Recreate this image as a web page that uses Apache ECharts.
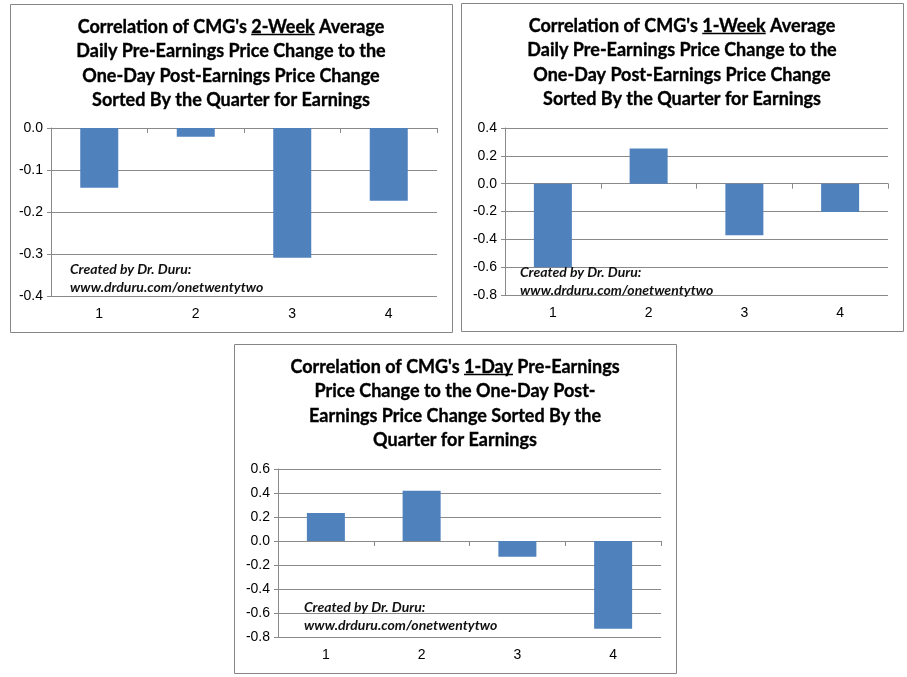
<!DOCTYPE html>
<html><head><meta charset="utf-8">
<script src="https://cdn.jsdelivr.net/npm/echarts@6/dist/echarts.min.js"></script>
<style>html,body{margin:0;padding:0;background:#fff}#c{width:907px;height:677px}</style>
</head><body><div id="c"></div>
<script>
// ---- data ----
const categories = ['1', '2', '3', '4'];
const twoWeekValues = [-0.142, -0.021, -0.309, -0.173];
const oneWeekValues = [-0.600, 0.253, -0.370, -0.203];
const oneDayValues = [0.234, 0.418, -0.131, -0.732];
const title1 = [["Correlation of CMG's ", "2-Week", " Average"], "Daily Pre-Earnings Price Change to the", "One-Day Post-Earnings Price Change", "Sorted By the Quarter for Earnings"];
const title2 = [["Correlation of CMG's ", "1-Week", " Average"], "Daily Pre-Earnings Price Change to the", "One-Day Post-Earnings Price Change", "Sorted By the Quarter for Earnings"];
const title3 = [["Correlation of CMG's ", "1-Day", " Pre-Earnings"], "Price Change to the One-Day Post-", "Earnings Price Change Sorted By the", "Quarter for Earnings"];
const watermark = "Created by Dr. Duru:\nwww.drduru.com/onetwentytwo";

// ---- layout ----
const TFONT = 'bold 18px Lato';
const panels = [
  {values: twoWeekValues, title: title1, box: [10, 4, 442, 328], grid: {left: 51, top: 128, width: 386, height: 168}, cx: 231, ty: 27, wm: [70, 278], y: {min: -0.4, max: 0, interval: 0.1}},
  {values: oneWeekValues, title: title2, box: [461, 3, 442, 328], grid: {left: 505, top: 128, width: 383, height: 167}, cx: 682, ty: 26, wm: [520, 281.5], y: {min: -0.8, max: 0.4, interval: 0.2}},
  {values: oneDayValues, title: title3, box: [234, 344, 442, 329], grid: {left: 278, top: 469, width: 383, height: 168}, cx: 455, ty: 367, wm: [304, 616], y: {min: -0.8, max: 0.6, interval: 0.2}}
];
const LINE_H = 24.4;
const gridColor = '#8a8a8a';
const barColor = '#4f81bd';

const ctx = document.createElement('canvas').getContext('2d');
ctx.font = TFONT;
const mw = s => ctx.measureText(s).width;

const graphics = [];
const grids = [], xAxes = [], yAxes = [], series = [];
const tStyle = {font: TFONT, fill: '#000', stroke: '#000', lineWidth: 0.35, textVerticalAlign: 'middle'};
panels.forEach((p, i) => {
  graphics.push({type: 'rect', shape: {x: p.box[0] + 0.5, y: p.box[1] + 0.5, width: p.box[2], height: p.box[3]}, style: {fill: 'none', stroke: '#868686', lineWidth: 1}, z: 0});
  p.title.forEach((line, li) => {
    const y = p.ty + li * LINE_H;
    if (Array.isArray(line)) {
      const ws = line.map(mw);
      const total = ws.reduce((a, b) => a + b, 0);
      let x = p.cx - total / 2;
      line.forEach((seg, si) => {
        graphics.push({type: 'text', x: x, y: y, style: Object.assign({text: seg, textAlign: 'left'}, tStyle), z: 10});
        if (si === 1) {
          graphics.push({type: 'line', shape: {x1: x, y1: Math.round(y + 7) + 0.5, x2: x + ws[si], y2: Math.round(y + 7) + 0.5}, style: {stroke: '#000', lineWidth: 1.3}, z: 10});
        }
        x += ws[si];
      });
    } else {
      graphics.push({type: 'text', x: p.cx, y: y, style: Object.assign({text: line, textAlign: 'center'}, tStyle), z: 10});
    }
  });
  graphics.push({type: 'text', x: p.wm[0], y: p.wm[1], style: {text: watermark, font: 'italic bold 14px Lato', fill: '#111', textAlign: 'left', textVerticalAlign: 'middle', lineHeight: 18}, z: 20});

  grids.push(Object.assign({containLabel: false}, p.grid));
  xAxes.push({
    type: 'category', gridIndex: i, data: categories, position: 'bottom',
    axisLine: {onZero: true, lineStyle: {color: gridColor, width: 1}},
    axisTick: {show: true, length: 5, lineStyle: {color: gridColor}},
    axisLabel: {show: false}, splitLine: {show: false}
  });
  xAxes.push({
    type: 'category', gridIndex: i, data: categories, position: 'bottom',
    axisLine: {show: false, onZero: false}, axisTick: {show: false},
    axisLabel: {show: true, margin: 11, color: '#000', fontFamily: 'Liberation Sans', fontSize: 14}
  });
  yAxes.push({
    type: 'value', gridIndex: i, min: p.y.min, max: p.y.max, interval: p.y.interval,
    axisLine: {show: true, lineStyle: {color: gridColor}},
    axisTick: {show: true, length: 4, lineStyle: {color: gridColor}},
    axisLabel: {margin: 8, color: '#000', fontFamily: 'Liberation Sans', fontSize: 14, formatter: v => v.toFixed(1)},
    splitLine: {show: true, lineStyle: {color: gridColor, width: 1}}
  });
  series.push({
    type: 'bar', xAxisIndex: i * 2, yAxisIndex: i, data: p.values, barWidth: 38,
    itemStyle: {color: barColor}, silent: true, z: 2
  });
});

const chart = echarts.init(document.getElementById('c'), null, {renderer: 'canvas'});
chart.setOption({
  backgroundColor: '#fff',
  animation: false,
  grid: grids, xAxis: xAxes, yAxis: yAxes, series: series,
  graphic: graphics
});
</script></body></html>
